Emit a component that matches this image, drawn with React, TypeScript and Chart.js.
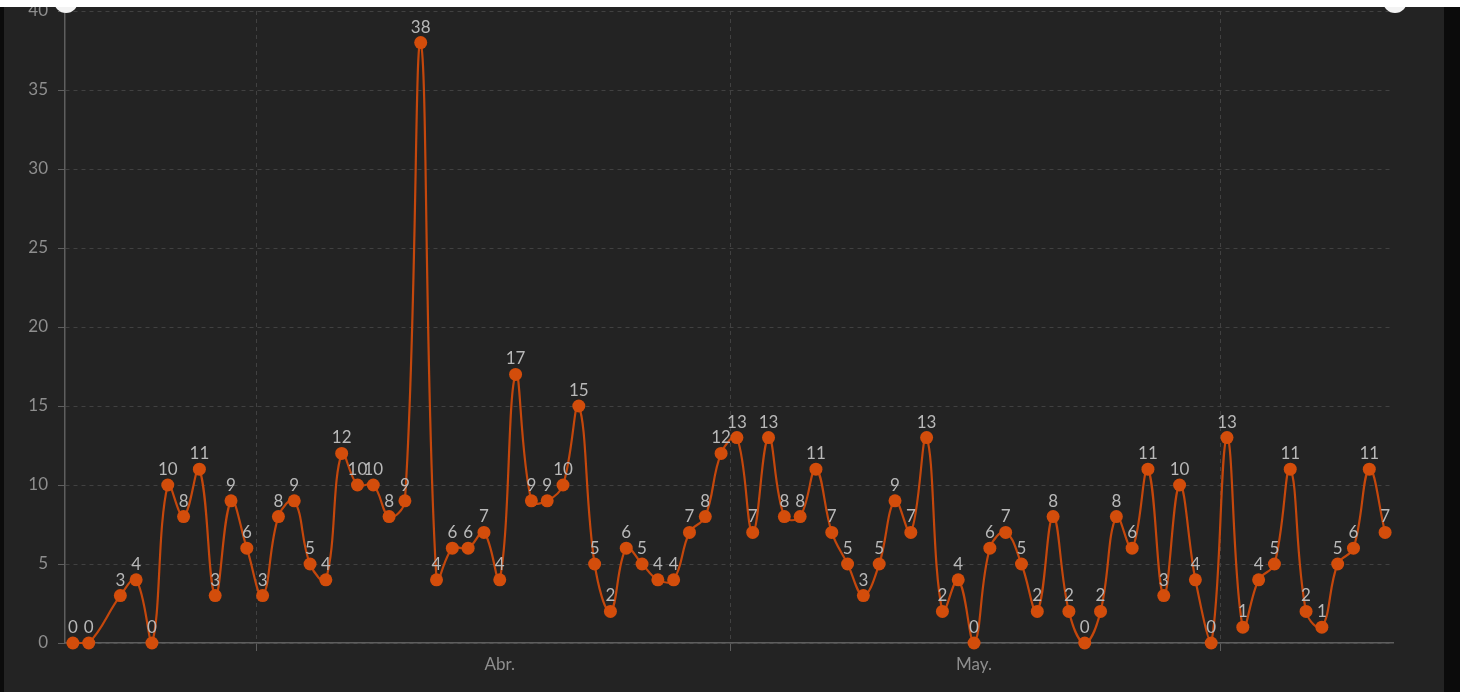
import React, { useEffect, useRef } from "react";
import { Chart, registerables } from "chart.js";

Chart.register(...registerables);

// ---- data ----
const dates = [
  "2024-03-20", "2024-03-21",
  "2024-03-23", "2024-03-24", "2024-03-25", "2024-03-26", "2024-03-27", "2024-03-28", "2024-03-29", "2024-03-30", "2024-03-31",
  "2024-04-01", "2024-04-02", "2024-04-03", "2024-04-04", "2024-04-05", "2024-04-06", "2024-04-07", "2024-04-08", "2024-04-09", "2024-04-10",
  "2024-04-11", "2024-04-12", "2024-04-13", "2024-04-14", "2024-04-15", "2024-04-16", "2024-04-17", "2024-04-18", "2024-04-19", "2024-04-20",
  "2024-04-21", "2024-04-22", "2024-04-23", "2024-04-24", "2024-04-25", "2024-04-26", "2024-04-27", "2024-04-28", "2024-04-29", "2024-04-30",
  "2024-05-01", "2024-05-02", "2024-05-03", "2024-05-04", "2024-05-05", "2024-05-06", "2024-05-07", "2024-05-08", "2024-05-09", "2024-05-10",
  "2024-05-11", "2024-05-12", "2024-05-13", "2024-05-14", "2024-05-15", "2024-05-16", "2024-05-17", "2024-05-18", "2024-05-19", "2024-05-20",
  "2024-05-21", "2024-05-22", "2024-05-23", "2024-05-24", "2024-05-25", "2024-05-26", "2024-05-27", "2024-05-28", "2024-05-29", "2024-05-30",
  "2024-05-31",
  "2024-06-01", "2024-06-02", "2024-06-03", "2024-06-04", "2024-06-05", "2024-06-06", "2024-06-07", "2024-06-08", "2024-06-09", "2024-06-10",
  "2024-06-11",
];

const counts = [
  0, 0, 3, 4, 0, 10, 8, 11, 3, 9,
  6, 3, 8, 9, 5, 4, 12, 10, 10, 8,
  9, 38, 4, 6, 6, 7, 4, 17, 9, 9,
  10, 15, 5, 2, 6, 5, 4, 4, 7, 8,
  12, 13, 7, 13, 8, 8, 11, 7, 5, 3,
  5, 9, 7, 13, 2, 4, 0, 6, 7, 5,
  2, 8, 2, 0, 2, 8, 6, 11, 3, 10,
  4, 0, 13, 1, 4, 5, 11, 2, 1, 5,
  6, 11, 7,
];

const monthStarts = ["2024-04-01", "2024-05-01", "2024-06-01"];
const monthLabelDates = ["2024-04-16", "2024-05-16"];
const monthLabels = ["Abr.", "May."];

const yMin = 0;
const yMax = 40;
const yStep = 5;

// ---- helpers ----
const dayIndex = (s: string) => {
  const [y, m, d] = s.split("-").map(Number);
  const [y0, m0, d0] = dates[0].split("-").map(Number);
  return Math.round((Date.UTC(y, m - 1, d) - Date.UTC(y0, m0 - 1, d0)) / 86400000);
};

const FONT = "Lato";
const GRID = "#414141";
const AXIS = "#5e5e5e";
const TICK_TEXT = "#8e8e8e";
const VALUE_TEXT = "#b8b8b8";

export default function App() {
  const ref = useRef<HTMLCanvasElement | null>(null);

  useEffect(() => {
    if (!ref.current) return;
    const xs = dates.map(dayIndex);
    const boundaries = monthStarts.map((s) => dayIndex(s) - 0.4);
    const mids = monthLabelDates.map(dayIndex);
    const xMin = xs[0] - 0.5;
    const xMax = xs[xs.length - 1] + 0.5;

    const valueLabels = {
      id: "valueLabels",
      afterDatasetsDraw(chart: any) {
        const { ctx } = chart;
        const meta = chart.getDatasetMeta(0);
        ctx.save();
        ctx.font = `17px ${FONT}`;
        ctx.fillStyle = VALUE_TEXT;
        ctx.textAlign = "center";
        ctx.textBaseline = "alphabetic";
        meta.data.forEach((pt: any, i: number) => {
          ctx.fillText(String(counts[i]), pt.x, pt.y - 10);
        });
        ctx.restore();
      },
    };

    const handles = {
      id: "handles",
      afterDraw(chart: any) {
        const { ctx, chartArea } = chart;
        ctx.save();
        ctx.fillStyle = "#f3f3f3";
        [chartArea.left + 1, chartArea.right + 2].forEach((x: number) => {
          ctx.beginPath();
          ctx.arc(x, chartArea.top - 10, 12, 0, Math.PI * 2);
          ctx.fill();
        });
        ctx.restore();
      },
    };

    const chart = new Chart(ref.current, {
      type: "line",
      data: {
        datasets: [
          {
            data: counts.map((v, i) => ({ x: xs[i], y: v })),
            borderColor: "#c4470c",
            borderWidth: 2.2,
            tension: 0.4,
            pointRadius: 6.5,
            pointHoverRadius: 6.5,
            pointBackgroundColor: "#d34d0b",
            pointBorderColor: "#d34d0b",
            pointBorderWidth: 0,
            clip: false as any,
          },
        ],
      },
      options: {
        animation: false,
        responsive: false,
        layout: { padding: { top: 34, left: 0, right: 51, bottom: 0 } },
        plugins: { legend: { display: false }, tooltip: { enabled: false } },
        scales: {
          x: {
            type: "linear",
            min: xMin,
            max: xMax,
            afterBuildTicks: (scale: any) => {
              scale.ticks = [...boundaries, ...mids]
                .sort((a, b) => a - b)
                .map((v) => ({ value: v }));
            },
            afterFit: (scale: any) => {
              scale.height = 49;
            },
            grid: {
              color: (c: any) => (c.tick && boundaries.includes(c.tick.value) ? GRID : "rgba(0,0,0,0)"),
              tickColor: (c: any) => (c.tick && boundaries.includes(c.tick.value) ? AXIS : "rgba(0,0,0,0)"),
              tickLength: 8,
              lineWidth: 1,
            },
            border: { color: AXIS, width: 1.5, dash: [4, 4] },
            ticks: {
              autoSkip: false,
              maxRotation: 0,
              padding: 3,
              color: TICK_TEXT,
              font: { family: FONT, size: 17 },
              callback: (value: any) => {
                const i = mids.indexOf(Number(value));
                return i >= 0 ? monthLabels[i] : "";
              },
            },
          },
          y: {
            min: yMin,
            max: yMax,
            afterFit: (scale: any) => {
              scale.width = 61;
            },
            grid: { color: GRID, tickColor: AXIS, tickLength: 7, lineWidth: 1 },
            border: { color: AXIS, width: 1.5, dash: [4, 4] },
            ticks: {
              stepSize: yStep,
              padding: 10,
              color: TICK_TEXT,
              font: { family: FONT, size: 17 },
            },
          },
        },
      },
      plugins: [valueLabels, handles],
    });

    return () => chart.destroy();
  }, []);

  return (
    <div style={{ position: "fixed", left: 0, top: 0, width: 1470, height: 692, background: "#ffffff", overflow: "hidden" }}>
      <div style={{ position: "absolute", left: 0, top: 7, width: 1460, height: 685, background: "#0b0b0b" }} />
      <div style={{ position: "absolute", left: 4, top: 7, width: 1440, height: 685, background: "#232323", overflow: "hidden" }}>
        <canvas
          ref={ref}
          width={1440}
          height={715}
          style={{ position: "absolute", left: 0, top: -30, width: 1440, height: 715 }}
        />
      </div>
    </div>
  );
}
